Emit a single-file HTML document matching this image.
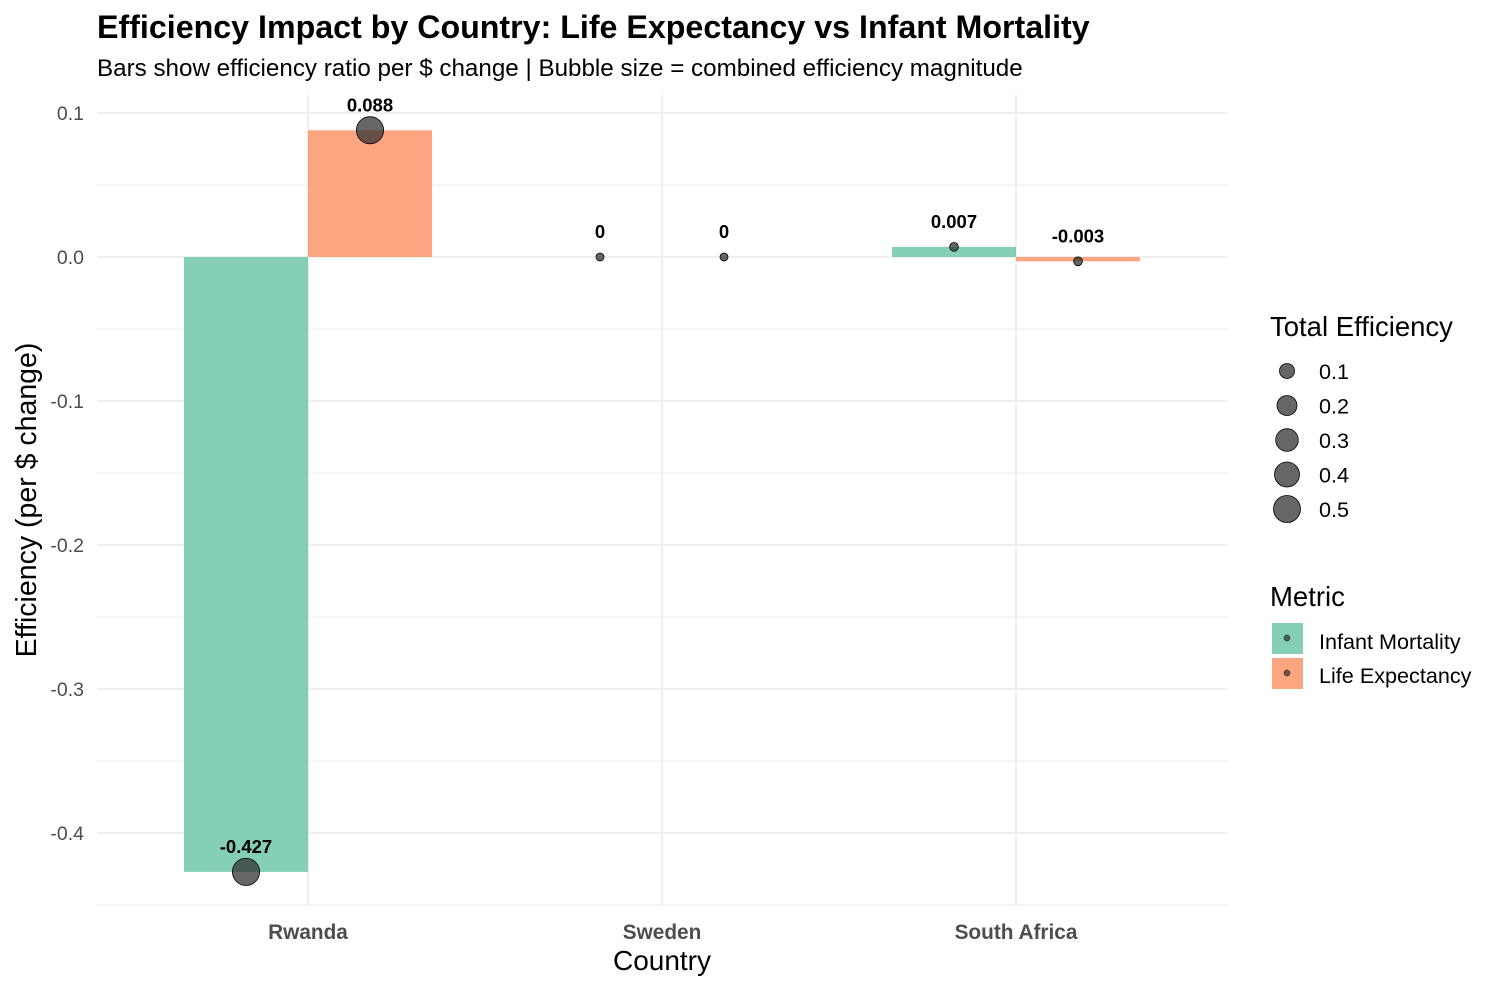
<!DOCTYPE html>
<html><head><meta charset="utf-8"><style>
body{margin:0;background:#fff;font-family:"Liberation Sans",sans-serif}
svg text{font-family:"Liberation Sans",sans-serif}
</style></head><body>
<svg id="chart" width="1500" height="990" xmlns="http://www.w3.org/2000/svg">
<text x="97" y="38" font-size="32.2" font-weight="bold" fill="#000">Efficiency Impact by Country: Life Expectancy vs Infant Mortality</text>
<text x="97" y="76" font-size="24.2" fill="#000">Bars show efficiency ratio per $ change | Bubble size = combined efficiency magnitude</text>
<g id="grid"></g><g id="bars"></g><g id="pts"></g><g id="lbls"></g><g id="axes"></g>
<text transform="translate(36,500) rotate(-90)" text-anchor="middle" font-size="28.5" fill="#000">Efficiency (per $ change)</text>
<text x="662" y="970" text-anchor="middle" font-size="28" fill="#000">Country</text>
<g>
<text x="1270" y="336" font-size="27.5" fill="#000">Total Efficiency</text>
<g id="sizeleg"></g></g>
<g>
<text x="1270" y="606" font-size="27.5" fill="#000">Metric</text>
<rect x="1272" y="623" width="31" height="31" fill="#66C2A5" fill-opacity="0.8"/>
<circle cx="1287" cy="638" r="3" fill="#333" fill-opacity="0.7" stroke="#000" stroke-width="0.5"/>
<text x="1319" y="649" font-size="21.6" fill="#000">Infant Mortality</text>
<rect x="1272" y="658" width="31" height="31" fill="#FC8D62" fill-opacity="0.8"/>
<circle cx="1287" cy="673" r="3" fill="#333" fill-opacity="0.7" stroke="#000" stroke-width="0.5"/>
<text x="1319" y="683" font-size="21.6" fill="#000">Life Expectancy</text>
</g>
</svg>
<script>
const categories=["Rwanda","Sweden","South Africa"];
const infantMortality=[-0.427,0,0.007];
const lifeExpectancy=[0.088,0,-0.003];
const infantLabels=["-0.427","0","0.007"];
const lifeLabels=["0.088","0","-0.003"];
const yTicks=[0.1,0.0,-0.1,-0.2,-0.3,-0.4];
const yTickLabels=["0.1","0.0","-0.1","-0.2","-0.3","-0.4"];
const sizeLegendValues=[0.1,0.2,0.3,0.4,0.5];
const NS="http://www.w3.org/2000/svg";
const pL=97,pR=1228,pT=95,pB=905;
const y=v=>257-(v)*1440;
const x=i=>308+i*354;
const bw=124;
const rad=v=>{const t=Math.max(0,Math.min(1,v/0.515));return Math.sqrt(16+(185-16)*t);};
function mk(tag,attrs,parent){const e=document.createElementNS(NS,tag);for(const k in attrs)e.setAttribute(k,attrs[k]);document.getElementById(parent).appendChild(e);return e;}
for(let v=0.1;v>=-0.45;v-=0.05){const l=mk('line',{x1:pL,x2:pR,y1:y(v),y2:y(v),stroke:'#EBEBEB','stroke-width':Math.abs(Math.round(v*20)%2)===0?1.6:1},'grid');

}
categories.forEach((c,i)=>{const l=mk('line',{x1:x(i),x2:x(i),y1:pT,y2:pB,stroke:'#EBEBEB','stroke-width':1.6},'grid');

});
yTicks.forEach((v,i)=>{const t=mk('text',{x:84,y:y(v)+7,'text-anchor':'end','font-size':19.5,fill:'#4D4D4D'},'axes');t.textContent=yTickLabels[i];

});
categories.forEach((c,i)=>{
const t=mk('text',{x:x(i),y:939,'text-anchor':'middle','font-size':20.8,'font-weight':'bold',fill:'#4D4D4D'},'axes');t.textContent=c;


const tot=Math.abs(infantMortality[i])+Math.abs(lifeExpectancy[i]);
[[infantMortality[i],'#66C2A5',x(i)-bw/2,infantLabels[i],'infant-mortality'],[lifeExpectancy[i],'#FC8D62',x(i)+bw/2,lifeLabels[i],'life-expectancy']].forEach(([v,col,cx,lab,nm])=>{
const b=mk('rect',{x:cx-bw/2,y:Math.min(y(v),y(0)),width:bw,height:Math.abs(y(v)-y(0)),fill:col,'fill-opacity':0.8},'bars');


const p=mk('circle',{cx:cx,cy:y(v),r:rad(tot),fill:'#333','fill-opacity':0.75,stroke:'#000','stroke-width':0.8},'pts');


const t2=mk('text',{x:cx,y:(v<0?y(v):y(Math.max(v,0)))-19,'text-anchor':'middle','font-size':18.5,'font-weight':'bold',fill:'#000'},'lbls');
t2.textContent=lab;


});});
sizeLegendValues.forEach((v,i)=>{const cy=371+i*34.5;
const c=mk('circle',{cx:1287,cy:cy,r:[7.5,10,11.3,12.5,13.5][i],fill:'#333','fill-opacity':0.75,stroke:'#000','stroke-width':0.8},'sizeleg');


const t=mk('text',{x:1319,y:cy+8,'font-size':21.6,fill:'#000'},'sizeleg');t.textContent=String(v);

});
</script>
</body></html>
